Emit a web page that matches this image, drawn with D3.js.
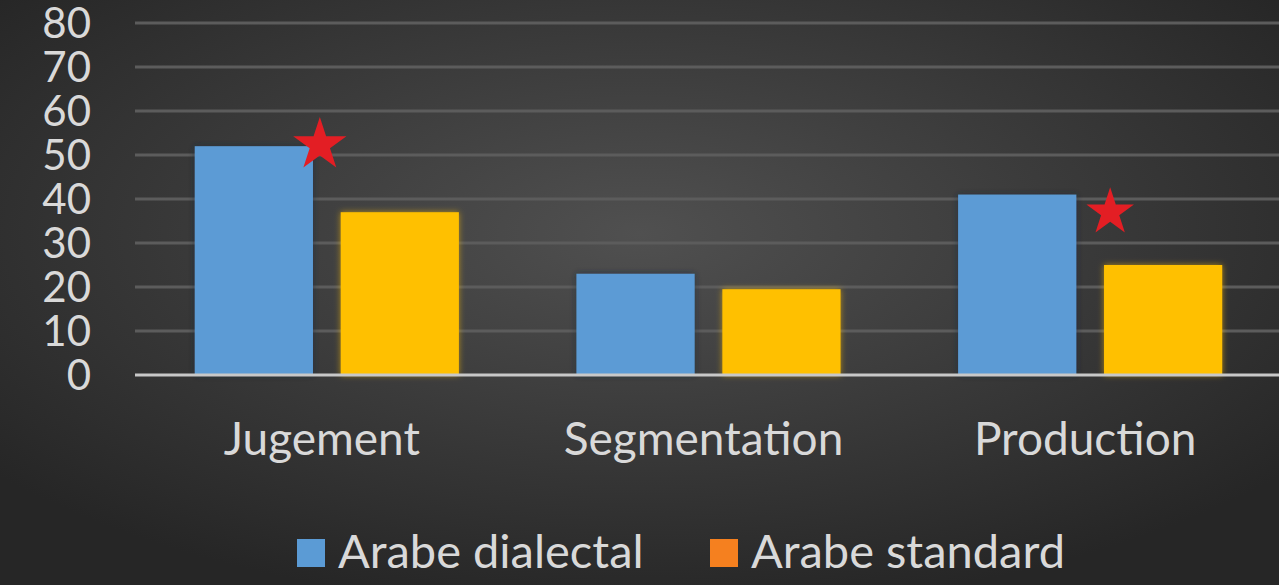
<!DOCTYPE html>
<html><head><meta charset="utf-8">
<script src="https://cdn.jsdelivr.net/npm/d3@7"></script>
<style>html,body{margin:0;padding:0;background:#333;}svg{display:block;}</style>
</head><body>
<script>
const categories = ["Jugement", "Segmentation", "Production"];
const seriesNames = ["Arabe dialectal", "Arabe standard"];
const dialectal = [52, 23, 41];
const standard = [37, 19.5, 25];
const yTicks = [0, 10, 20, 30, 40, 50, 60, 70, 80];
const legendColors = ["#5b9bd5", "#f5801f"];
const barColors = ["#5b9bd5", "#ffc000"];
const stars = [{cat: "Jugement", value: 52.3, size: 28}, {cat: "Production", value: 37, size: 25}];

const W = 1279, H = 585;
const svg = d3.select("body").append("svg").attr("width", W).attr("height", H);
const defs = svg.append("defs");
const rg = defs.append("radialGradient").attr("id", "bg").attr("cx", "50%").attr("cy", "40%").attr("r", "65%");
rg.append("stop").attr("offset", "0%").attr("stop-color", "#505050");
rg.append("stop").attr("offset", "100%").attr("stop-color", "#262626");
svg.append("rect").attr("width", W).attr("height", H).attr("fill", "url(#bg)");

const glowY = defs.append("filter").attr("id", "glowY").attr("x", "-20%").attr("y", "-20%").attr("width", "140%").attr("height", "140%");
glowY.append("feDropShadow").attr("dx", 0).attr("dy", 0).attr("stdDeviation", 3).attr("flood-color", "#ffc000").attr("flood-opacity", 0.6);
const glowB = defs.append("filter").attr("id", "glowB").attr("x", "-20%").attr("y", "-20%").attr("width", "140%").attr("height", "140%");
glowB.append("feDropShadow").attr("dx", 0).attr("dy", 0).attr("stdDeviation", 3).attr("flood-color", "#1a2a3a").attr("flood-opacity", 0.7);

const y = d3.scaleLinear().domain([0, 80]).range([375, 23]);
const x0 = d3.scaleBand().domain(categories).range([136, 1281]).paddingInner(0.308).paddingOuter(0.154);
const x1 = d3.scaleBand().domain(seriesNames).range([0, x0.bandwidth()]).paddingInner(0.19);

const font = "Lato, 'Open Sans', sans-serif";

// gridlines
svg.append("g").selectAll("line").data(yTicks.filter(d => d > 0)).join("line")
  .attr("x1", 135).attr("x2", W).attr("y1", d => y(d)).attr("y2", d => y(d))
  .attr("stroke", "#5c5c5c").attr("stroke-width", 3);

// y labels
svg.append("g").selectAll("text").data(yTicks).join("text")
  .attr("x", 91).attr("y", d => y(d)).attr("dy", "0.36em").attr("text-anchor", "end")
  .attr("fill", "#d9d9d9").attr("font-family", font).attr("font-size", 42).text(d => d);

// bars
const rows = categories.map((c, i) => ({cat: c, vals: [dialectal[i], standard[i]]}));
const g = svg.append("g").selectAll("g").data(rows).join("g").attr("transform", d => `translate(${x0(d.cat)},0)`);
g.selectAll("rect").data(d => d.vals.map((v, j) => ({s: seriesNames[j], v, j}))).join("rect")
  .attr("x", d => x1(d.s)).attr("width", x1.bandwidth())
  .attr("y", d => y(d.v)).attr("height", d => y(0) - y(d.v))
  .attr("fill", d => barColors[d.j]).attr("filter", d => d.j === 1 ? "url(#glowY)" : "url(#glowB)");

// baseline axis
svg.append("line").attr("x1", 135).attr("x2", W).attr("y1", y(0)).attr("y2", y(0))
  .attr("stroke", "#c8c8c8").attr("stroke-width", 3);

// category labels
svg.append("g").selectAll("text").data(categories).join("text")
  .attr("x", d => x0(d) + x0.bandwidth() / 2 - 5).attr("y", 455).attr("text-anchor", "middle")
  .attr("fill", "#d9d9d9").attr("font-family", font).attr("font-size", 46).text(d => d);

// stars
const starPath = (R) => {
  const r = R * 0.382; const pts = [];
  for (let k = 0; k < 10; k++) {
    const a = -Math.PI / 2 + k * Math.PI / 5; const rr = k % 2 ? r : R;
    pts.push([rr * Math.cos(a), rr * Math.sin(a)]);
  }
  return "M" + pts.map(p => p.join(",")).join("L") + "Z";
};
const starOffsets = {"Jugement": -7, "Production": 20};
svg.append("g").selectAll("path").data(stars).join("path")
  .attr("transform", d => `translate(${x0(d.cat) + x0.bandwidth() / 2 + starOffsets[d.cat]},${y(d.value)})`)
  .attr("d", d => starPath(d.size)).attr("fill", "#e31e24");

// legend
const leg = svg.append("g");
const legX = [297, 710];
seriesNames.forEach((s, i) => {
  leg.append("rect").attr("x", legX[i]).attr("y", 539).attr("width", 28).attr("height", 28).attr("fill", legendColors[i]);
  leg.append("text").attr("x", legX[i] + 41).attr("y", 568).attr("fill", "#d9d9d9")
    .attr("font-family", font).attr("font-size", 47).text(s);
});
</script>
</body></html>
